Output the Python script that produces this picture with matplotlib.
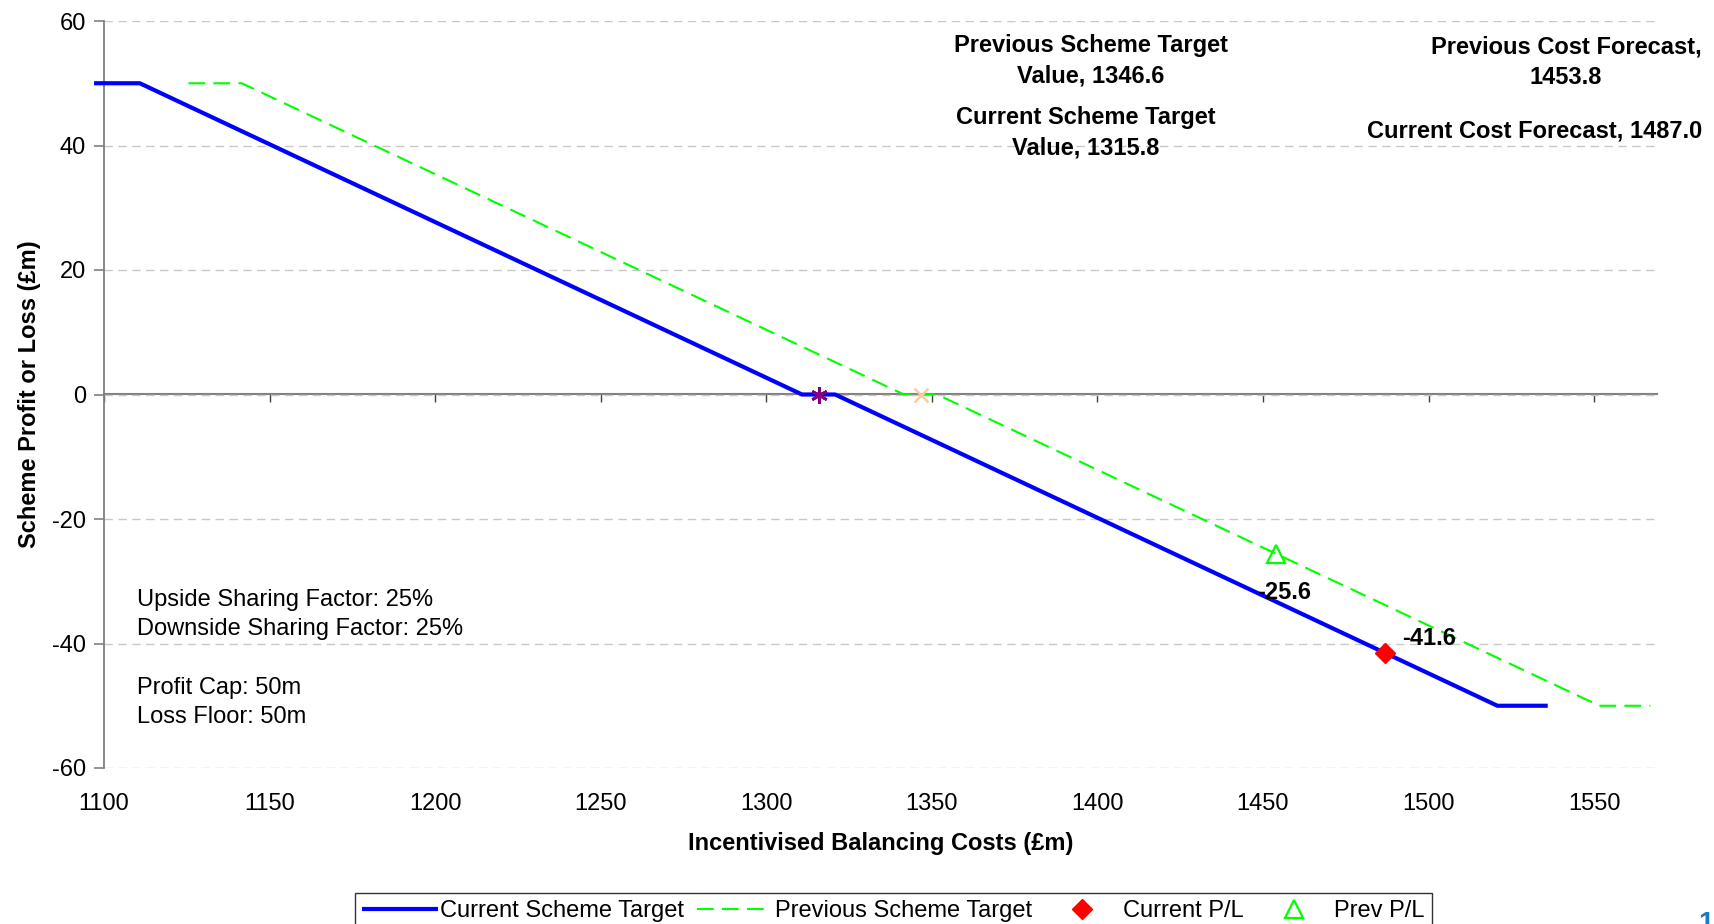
import matplotlib
matplotlib.use('Agg')
import matplotlib.pyplot as plt

plt.rcParams['font.family'] = ['Liberation Sans', 'DejaVu Sans']
plt.rcParams['axes.unicode_minus'] = False

# scheme lines (cost, profit/loss)
cur_x = [1097, 1110.8, 1310.8, 1320.8, 1520.8, 1536]
cur_y = [50, 50, 0, 0, -50, -50]
prev_x = [1125.5, 1141.6, 1341.6, 1351.6, 1551.6, 1567]
prev_y = [50, 50, 0, 0, -50, -50]

# forecast points and target values
cur_forecast = 1487.0
cur_pl = -41.6
prev_forecast = 1453.8
prev_pl = -25.6
cur_target = 1315.8
prev_target = 1346.6

x_ticks = [1100, 1150, 1200, 1250, 1300, 1350, 1400, 1450, 1500, 1550]
y_ticks = [-60, -40, -20, 0, 20, 40, 60]

notes = ['Upside Sharing Factor: 25%', 'Downside Sharing Factor: 25%', '',
         'Profit Cap: 50m', 'Loss Floor: 50m']

fs = 17
gray = '#808080'

fig = plt.figure(figsize=(17.15, 9.24), dpi=100)
ax = fig.add_axes([104 / 1715, 156 / 924, 1553 / 1715, 747 / 924])

ax.set_xlim(1100, 1569)
ax.set_ylim(-60, 60)
ax.set_xticks(x_ticks)
ax.set_yticks(y_ticks)
ax.tick_params(axis='x', length=0, pad=18, labelsize=fs)
ax.tick_params(axis='y', length=7, width=1.2, color=gray, pad=6, labelsize=fs)
for s in ['top', 'right', 'bottom']:
    ax.spines[s].set_visible(False)
ax.spines['left'].set_color(gray)
ax.spines['left'].set_linewidth(1.3)
ax.yaxis.grid(True, color='#c8c8c8', linestyle=(0, (6, 4)), linewidth=1)
ax.set_axisbelow(True)

# horizontal axis crossing at zero
zero = ax.secondary_xaxis(0.5)
zero.set_xticks(x_ticks)
zero.tick_params(axis='x', direction='in', length=6, width=1, color='#404040',
                 labeltop=False, labelbottom=False)
zero.spines['top'].set_color(gray)
zero.spines['top'].set_linewidth(1.5)

ax.plot(cur_x, cur_y, color='#0000ff', lw=3, solid_capstyle='butt',
        clip_on=False, label='Current Scheme Target', zorder=3)
ax.plot(prev_x, prev_y, color='#00ff00', lw=1.5, dashes=(8, 4),
        clip_on=False, label='Previous Scheme Target', zorder=3)
ax.plot([cur_forecast], [cur_pl], linestyle='none', marker='D', ms=10,
        color='#ff0000', label='Current P/L', zorder=4)
ax.plot([prev_forecast], [prev_pl], linestyle='none', marker='^', ms=13,
        mfc='none', mec='#00ff00', mew=1.6, label='Prev P/L', zorder=4)
ax.plot([cur_target], [0], linestyle='none', marker=(6, 2, 0), ms=12,
        mew=2, color='#800080', zorder=4)
ax.plot([prev_target], [0], linestyle='none', marker='x', ms=10,
        mew=1.8, color='#ffcc99', zorder=4)

ax.annotate(f'{prev_pl:.1f}', xy=(prev_forecast, prev_pl), xytext=(6, -28),
            textcoords='offset points', ha='center', va='center',
            fontsize=fs, fontweight='bold')
ax.annotate(f'{cur_pl:.1f}', xy=(cur_forecast, cur_pl), xytext=(12, 11),
            textcoords='offset points', ha='left', va='center',
            fontsize=fs, fontweight='bold')

ax.text(1398, 53.6, f'Previous Scheme Target\nValue, {prev_target}',
        ha='center', va='center', fontsize=fs, fontweight='bold', linespacing=1.4)
ax.text(1396.6, 42.0, f'Current Scheme Target\nValue, {cur_target}',
        ha='center', va='center', fontsize=fs, fontweight='bold', linespacing=1.4)
ax.text(1541.5, 53.4, f'Previous Cost Forecast,\n{prev_forecast}',
        ha='center', va='center', fontsize=fs, fontweight='bold', linespacing=1.4)
ax.text(1532.1, 42.4, f'Current Cost Forecast, {cur_forecast}',
        ha='center', va='center', fontsize=fs, fontweight='bold')

ax.text(1110, -31.3, '\n'.join(notes), ha='left', va='top', fontsize=fs,
        linespacing=1.42)

ax.set_xlabel('Incentivised Balancing Costs (£m)', fontsize=fs,
              fontweight='bold', labelpad=12)
ax.set_ylabel('Scheme Profit or Loss (£m)', fontsize=fs, fontweight='bold',
              labelpad=8)

leg = fig.legend(loc='upper left', bbox_to_anchor=(355 / 1715, 1 - 893 / 924),
                 ncol=4, fontsize=fs, frameon=True, fancybox=False,
                 edgecolor='black', borderaxespad=0, borderpad=0.3,
                 handlelength=3.2, handletextpad=0.12, columnspacing=0.52,
                 numpoints=1)
leg.get_frame().set_linewidth(1)

fig.text(1706 / 1715, 1 - 911 / 924, '1', color='#1a7ac4', fontsize=20,
         fontweight='bold', ha='center', va='top')

fig.savefig('out.png', dpi=100)
